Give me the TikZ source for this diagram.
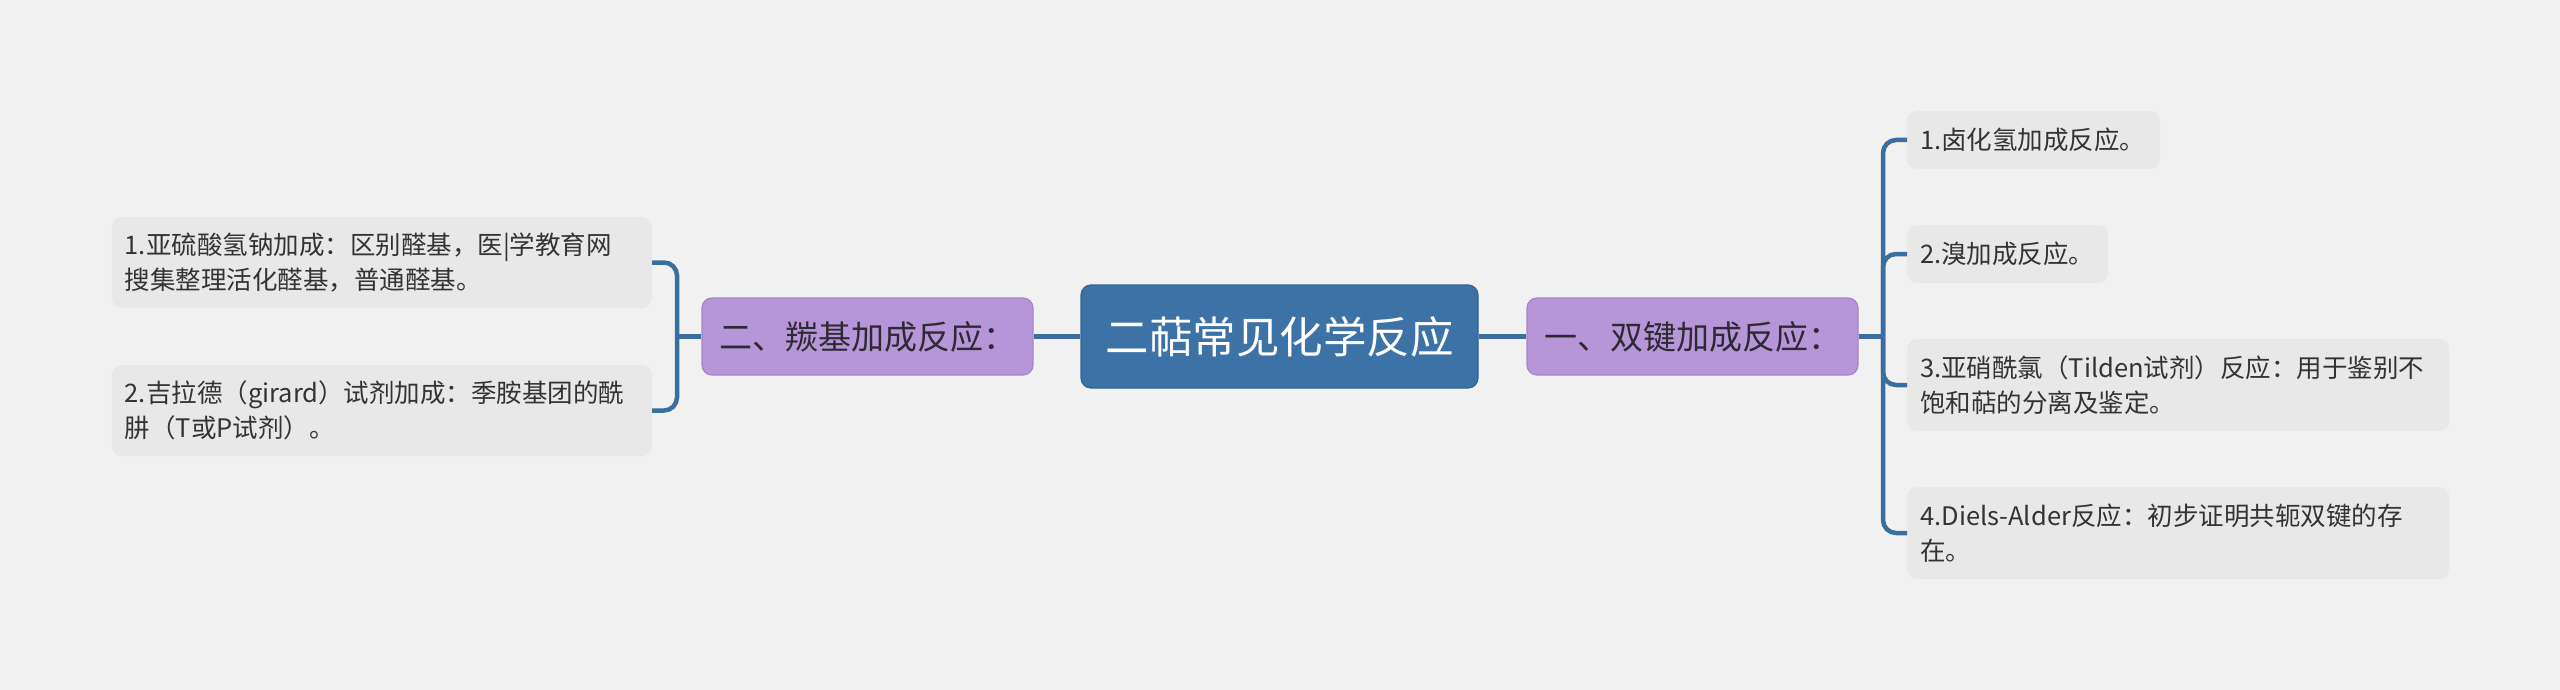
\documentclass[tikz,border=0pt]{standalone}
\usepackage{fontspec}
\setmainfont{Noto Sans CJK SC}
\definecolor{bgc}{HTML}{F1F1F1}
\definecolor{leaffill}{HTML}{E8E8E8}
\definecolor{lvlfill}{HTML}{B795D9}
\definecolor{lvldraw}{HTML}{A684CB}
\definecolor{rootfill}{HTML}{3C72A5}
\definecolor{rootdraw}{HTML}{326391}
\definecolor{linec}{HTML}{3A6E9E}
\definecolor{txtc}{HTML}{333333}
\definecolor{lvltxt}{HTML}{2E2A33}
\tikzset{
  rootbox/.style={fill=rootfill, draw=rootdraw, line width=1.2pt, rounded corners=10pt,
    minimum width=397pt, minimum height=103pt, inner sep=0pt, text=white,
    font=\fontsize{43.5}{50}\selectfont},
  lvlbox/.style={fill=lvlfill, draw=lvldraw, line width=1.2pt, rounded corners=10pt,
    minimum width=331pt, minimum height=77pt, inner sep=0pt, text=lvltxt,
    font=\fontsize{33}{40}\selectfont},
  leafbox/.style={fill=leaffill, rounded corners=10pt, inner xsep=13pt, inner ysep=0pt,
    align=left, text=txtc, font=\fontsize{25.5}{35}\selectfont},
  conn/.style={draw=linec, line width=4.5pt, rounded corners=13pt},
}
\begin{document}
\begin{tikzpicture}[x=1pt,y=-1pt]
\useasboundingbox[fill=bgc] (0,0) rectangle (2560,690);
% root and level-1
\node[rootbox] (root) at (1279.5,336.5) {二萜常见化学反应};
\node[lvlbox] (lft) at (867.5,336.5) {二、羰基加成反应：};
\node[lvlbox] (rgt) at (1692.5,336.5) {一、双键加成反应：};
% left leaves
\node[leafbox, anchor=east, text width=514pt, minimum height=91pt] (la) at (652,262.5)
  {1.亚硫酸氢钠加成：区别醛基，医|学教育网\\搜集整理活化醛基，普通醛基。};
\node[leafbox, anchor=east, text width=514pt, minimum height=91pt] (lb) at (652,410.5)
  {2.吉拉德（girard）试剂加成：季胺基团的酰\\肼（T或P试剂）。};
% right leaves
\node[leafbox, anchor=west, text width=227pt, minimum height=58pt] (ra) at (1907,140)
  {1.卤化氢加成反应。};
\node[leafbox, anchor=west, text width=175pt, minimum height=58pt] (rb) at (1907,254)
  {2.溴加成反应。};
\node[leafbox, anchor=west, text width=516pt, minimum height=92pt] (rc) at (1907,385)
  {3.亚硝酰氯（Tilden试剂）反应：用于鉴别不\\饱和萜的分离及鉴定。};
\node[leafbox, anchor=west, text width=516pt, minimum height=92pt] (rd) at (1907,533)
  {4.Diels-Alder反应：初步证明共轭双键的存\\在。};
% junctions
\coordinate (lj) at (677,336.5);
\coordinate (rj) at (1883,336.5);
% connectors
\draw[conn] (root.west) -- (lft.east);
\draw[conn] (root.east) -- (rgt.west);
\draw[conn] (lft.west) -- (lj);
\draw[conn] (la.east) -| (lj) |- (lb.east);
\draw[conn] (rgt.east) -- (rj);
\draw[conn] (rj) |- (ra.west);
\draw[conn] (rj) |- (rb.west);
\draw[conn] (rj) |- (rc.west);
\draw[conn] (rj) |- (rd.west);
\end{tikzpicture}
\end{document}
